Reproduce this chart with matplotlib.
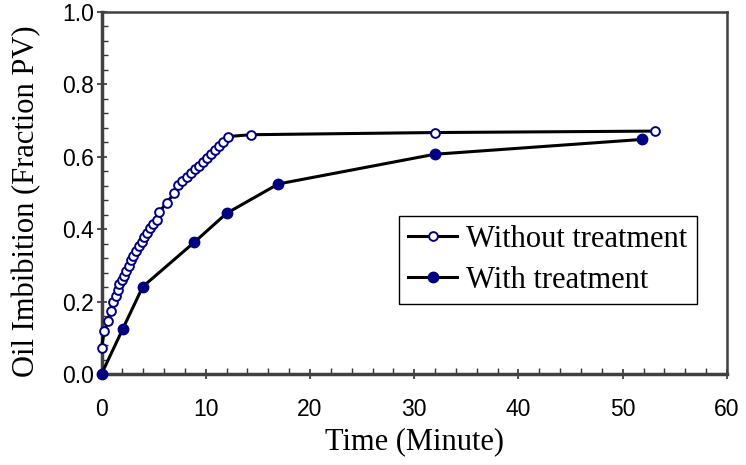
import matplotlib.pyplot as plt
from matplotlib.ticker import MultipleLocator, FormatStrFormatter

# Without treatment (open circles)
time_without = [0.0, 0.27, 0.59, 0.87, 1.13, 1.36, 1.55, 1.72, 1.93, 2.17, 2.38,
                2.62, 2.85, 3.05, 3.28, 3.58, 3.85, 4.10, 4.38, 4.64, 4.96, 5.28,
                5.52, 6.25, 6.98, 7.37, 7.75, 8.17, 8.58, 8.97, 9.35, 9.77, 10.15,
                10.50, 10.89, 11.30, 11.69, 12.17, 14.3, 31.96, 53.1]
oil_without = [0.073, 0.119, 0.146, 0.173, 0.198, 0.215, 0.232, 0.248, 0.260, 0.272,
               0.284, 0.298, 0.315, 0.327, 0.340, 0.353, 0.366, 0.378, 0.390, 0.402,
               0.414, 0.426, 0.447, 0.473, 0.500, 0.523, 0.534, 0.545, 0.556, 0.565,
               0.575, 0.586, 0.597, 0.608, 0.619, 0.630, 0.642, 0.656, 0.661, 0.667,
               0.671]

# With treatment (filled circles)
time_with = [0.0, 2.03, 3.95, 8.9, 12.0, 16.96, 31.96, 51.85]
oil_with = [0.0, 0.124, 0.241, 0.364, 0.444, 0.525, 0.607, 0.648]

navy = '#000080'
serif = 'Liberation Serif'
sans = 'Liberation Sans'

fig = plt.figure(figsize=(7.46, 4.65), dpi=100)
ax = fig.add_axes([0.1361, 0.1957, 0.8384, 0.7785])

ax.plot(time_without, oil_without, color='black', lw=2.2, marker='o', ms=6.3,
        mfc='white', mec=navy, mew=1.4, clip_on=False, zorder=3,
        label='Without treatment')
ax.plot(time_with, oil_with, color='black', lw=2.2, marker='o', ms=7.5,
        mfc=navy, mec=navy, clip_on=False, zorder=3, label='With treatment')

ax.set_xlim(0, 60)
ax.set_ylim(0, 1.0)
ax.xaxis.set_major_locator(MultipleLocator(10))
ax.xaxis.set_minor_locator(MultipleLocator(2))
ax.yaxis.set_major_locator(MultipleLocator(0.2))
ax.yaxis.set_minor_locator(MultipleLocator(0.04))
ax.yaxis.set_major_formatter(FormatStrFormatter('%.1f'))

ax.tick_params(which='major', direction='inout', length=7, width=1.2, color='#333333')
ax.tick_params(which='minor', direction='in', length=4, width=1.0, color='#333333')
ax.tick_params(axis='x', which='major', pad=14)
ax.tick_params(axis='y', which='major', pad=2)
for lab in ax.get_xticklabels() + ax.get_yticklabels():
    lab.set_fontfamily(sans)
    lab.set_fontsize(16.5)

for side in ['left', 'bottom']:
    ax.spines[side].set_linewidth(2.5)
    ax.spines[side].set_color('#404040')
for side in ['top', 'right']:
    ax.spines[side].set_linewidth(1.8)
    ax.spines[side].set_color('#404040')

ax.set_xlabel('Time (Minute)', fontfamily=serif, fontsize=22, labelpad=4)
ax.set_ylabel('Oil Imbibition (Fraction PV)', fontfamily=serif, fontsize=22)
ax.yaxis.set_label_coords(-0.097, 0.478)

leg = ax.legend(loc='upper left', bbox_to_anchor=(0.4756, 0.437), borderaxespad=0,
                prop={'family': serif, 'size': 22}, fancybox=False,
                edgecolor='black', framealpha=1, handlelength=1.6,
                handletextpad=0.3, labelspacing=0.38, borderpad=0.3)
leg.get_frame().set_linewidth(1.0)

plt.savefig('out.png', dpi=100)
